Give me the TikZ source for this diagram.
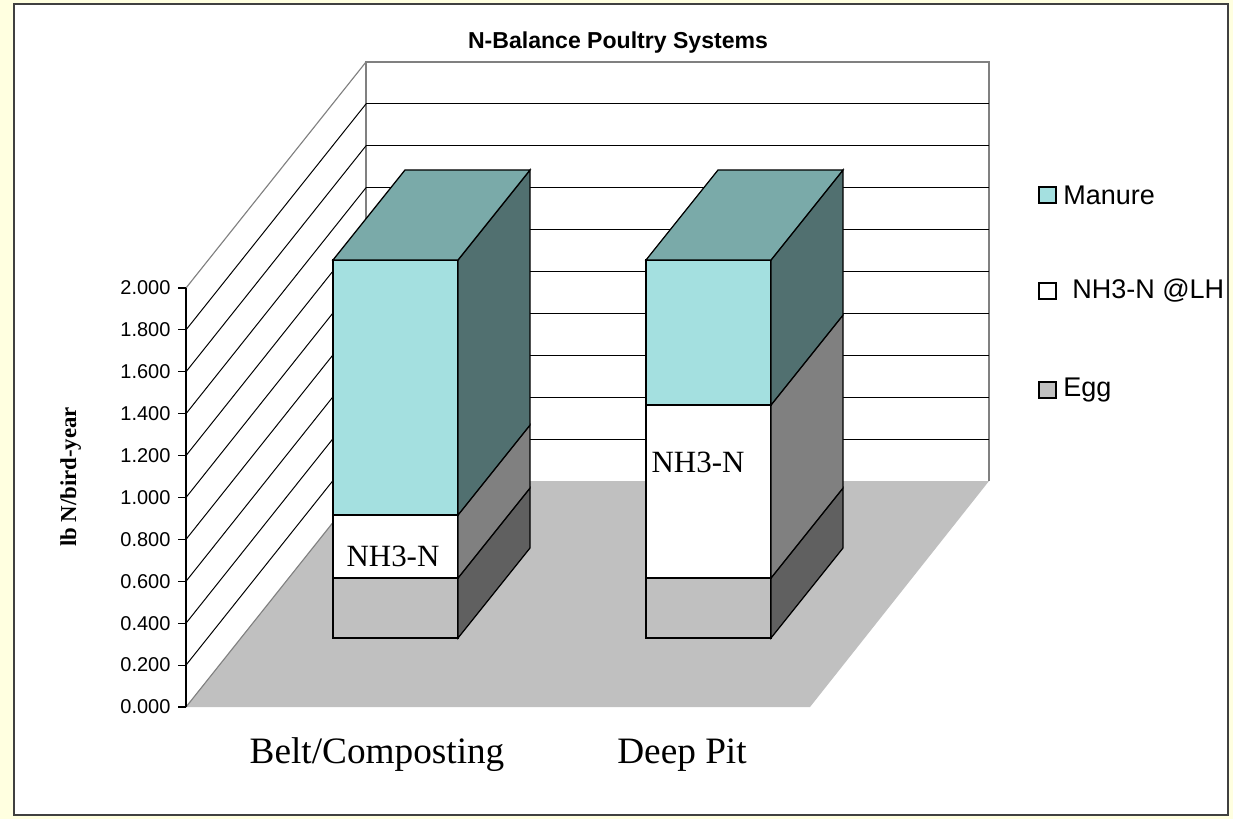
\documentclass[tikz,border=0pt]{standalone}
\usepackage{fontspec}
\setmainfont{Liberation Serif}
\setsansfont{Liberation Sans}
\definecolor{paper}{RGB}{255,255,224}
\definecolor{manure}{RGB}{164,224,224}
\definecolor{manuretop}{RGB}{122,170,169}
\definecolor{manureside}{RGB}{81,112,112}
\definecolor{nhside}{RGB}{128,128,128}
\definecolor{egg}{RGB}{192,192,192}
\definecolor{eggside}{RGB}{96,96,96}

% one stacked piece of a column: x, bottom, top, front colour, side colour
\newcommand{\barblock}[5]{%
  \draw[seg,fill=#4] (#1,#2) rectangle (#1+125,#3);
  \draw[seg,fill=#5] (#1+125,#2) -- (#1+197,#2-90) -- (#1+197,#3-90) -- (#1+125,#3) -- cycle;
}
% lid of a column: x, top, colour
\newcommand{\bartop}[3]{%
  \draw[seg,fill=#3] (#1,#2) -- (#1+72,#2-90) -- (#1+197,#2-90) -- (#1+125,#2) -- cycle;
}

\begin{document}
\begin{tikzpicture}[x=0.025cm,y=-0.025cm,
    grid/.style={black,line width=0.7pt},
    edge/.style={gray,line width=0.8pt},
    seg/.style={black,line width=0.9pt},
    every node/.style={inner sep=0pt}]
\useasboundingbox (0,0) rectangle (1233,819);
\fill[paper] (0,0) rectangle (1233,819);
\draw[fill=white,draw=black!75,line width=1pt] (14,4) rectangle (1228,815);

% walls
\draw[edge] (366,481) -- (366,62) -- (989,62) -- (989,481);
\foreach \k in {1,...,9} {
  \draw[grid] (366,481-41.9*\k) -- (989,481-41.9*\k);
  \draw[grid] (186,707-41.9*\k) -- (366,481-41.9*\k);
}
\draw[edge] (186,288) -- (366,62);

% floor
\fill[egg] (186,707) -- (366,481) -- (989,481) -- (810,707) -- cycle;
\draw[edge] (186,707) -- (366,481);

% value axis
\draw[black,line width=0.8pt] (186,288) -- (186,707);
\foreach \k/\lab in {0/0.000,1/0.200,2/0.400,3/0.600,4/0.800,5/1.000,
                     6/1.200,7/1.400,8/1.600,9/1.800,10/2.000}
  \draw[black,line width=0.8pt] (186,707-41.9*\k) -- (178,707-41.9*\k)
    node[left=5pt,font=\sffamily\fontsize{14.2}{16}\selectfont] (tick\k) {\lab};

% columns
\barblock{333}{638}{578}{egg}{eggside}
\barblock{333}{578}{515}{white}{nhside}
\barblock{333}{515}{260}{manure}{manureside}
\bartop{333}{260}{manuretop}

\barblock{646}{638}{578}{egg}{eggside}
\barblock{646}{578}{405}{white}{nhside}
\barblock{646}{405}{260}{manure}{manureside}
\bartop{646}{260}{manuretop}

\node[font=\fontsize{22}{24}\selectfont] (nhbelt) at (393,556) {NH3-N};
\node[font=\fontsize{22}{24}\selectfont] (nhpit) at (698,462) {NH3-N};

% labels
\node[anchor=base,font=\sffamily\bfseries\fontsize{16.4}{18}\selectfont] (title) at (618,49) {N-Balance Poultry Systems};
\node[anchor=base,rotate=90,font=\bfseries\fontsize{16.2}{18}\selectfont] (ytitle) at (76,477) {lb N/bird-year};
\node[anchor=base,font=\fontsize{26.5}{30}\selectfont] (belt) at (377,763) {Belt/Composting};
\node[anchor=base,font=\fontsize{26.5}{30}\selectfont] (pit) at (682,763) {Deep Pit};

% legend
\draw[black,line width=0.8pt,fill=manure] (1039,187) rectangle (1056,203);
\draw[black,line width=0.8pt,fill=white] (1039,283) rectangle (1056,299);
\draw[black,line width=0.8pt,fill=egg] (1039,382) rectangle (1056,398);
\node[anchor=west,font=\sffamily\fontsize{19.2}{21}\selectfont] (legmanure) at (1063,195) {Manure};
\node[anchor=west,font=\sffamily\fontsize{19.2}{21}\selectfont] (legnh) at (1072,291) {NH3-N @LH};
\node[anchor=west,font=\sffamily\fontsize{19.2}{21}\selectfont] (legegg) at (1063,390) {Egg};
\end{tikzpicture}
\end{document}
